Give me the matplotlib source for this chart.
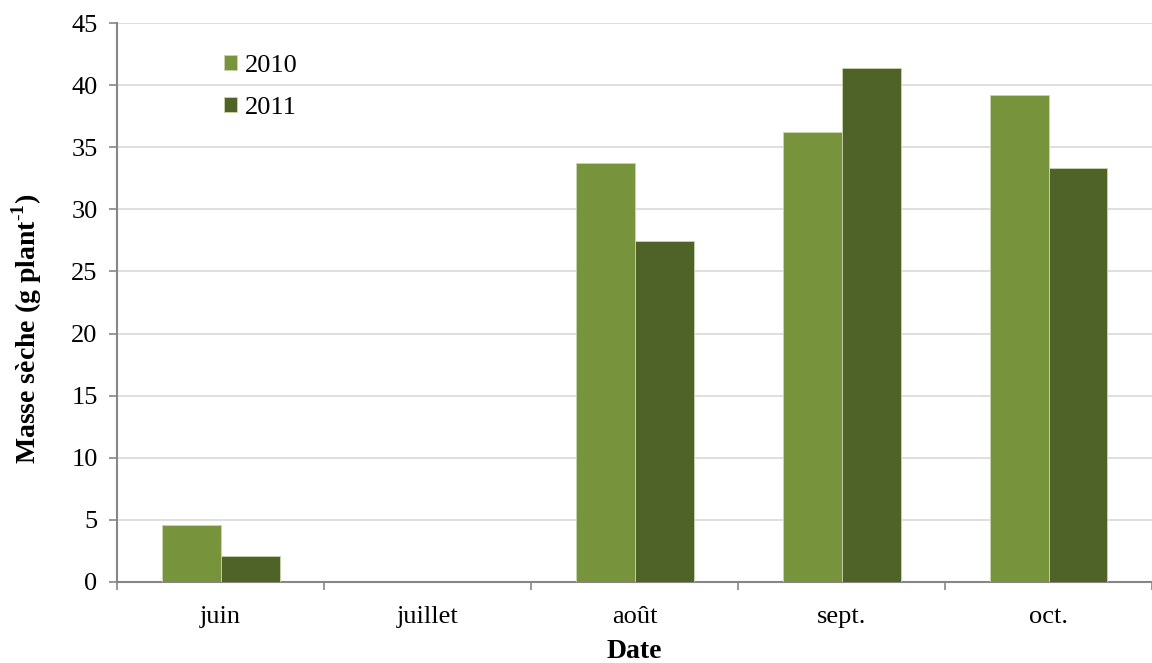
import numpy as np
import matplotlib.pyplot as plt

plt.rcParams['font.family'] = ['Liberation Serif', 'DejaVu Serif']
plt.rcParams['mathtext.fontset'] = 'custom'
plt.rcParams['mathtext.rm'] = 'Liberation Serif'
plt.rcParams['mathtext.bf'] = 'Liberation Serif:bold'

# Dry mass per plant by sampling month
months = ['juin', 'juillet', 'août', 'sept.', 'oct.']
mass_2010 = [4.6, 0, 33.7, 36.2, 39.2]
mass_2011 = [2.1, 0, 27.45, 41.35, 33.3]

fig = plt.figure(figsize=(11.52, 6.63), dpi=100)
ax = fig.add_axes([0.1016, 0.1222, 0.8984, 0.8431])

x = np.arange(len(months))
w = 0.285
ax.bar(x - w / 2, mass_2010, w, color='#77933C', edgecolor='#c9d6b0', linewidth=0.6, label='2010', zorder=3)
ax.bar(x + w / 2, mass_2011, w, color='#4F6228', edgecolor='#c9d6b0', linewidth=0.6, label='2011', zorder=3)

ax.set_xlim(-0.5, len(months) - 0.5)
ax.set_ylim(0, 45)
ax.set_yticks(np.arange(0, 46, 5))
ax.yaxis.grid(True, color='#d9d9d9', linewidth=1.2, zorder=0)

# category labels centred, ticks between categories
ax.set_xticks(x)
ax.set_xticklabels(months)
ax.set_xticks(np.arange(-0.5, len(months), 1), minor=True)
ax.tick_params(axis='x', which='major', length=0, pad=17, labelsize=19)
ax.tick_params(axis='x', which='minor', length=6, width=1.2, color='#868686', direction='out')
ax.tick_params(axis='y', length=6, width=1.2, color='#868686', labelsize=19, pad=8)

for side in ['top', 'right']:
    ax.spines[side].set_visible(False)
for side in ['left', 'bottom']:
    ax.spines[side].set_color('#868686')
    ax.spines[side].set_linewidth(1.5)

ax.set_xlabel('Date', fontsize=20, fontweight='bold', labelpad=8)
ax.set_ylabel(r'Masse sèche (g plant$^{\mathbf{\text{-}1}}$)', fontsize=20, fontweight='bold')
ax.yaxis.set_label_coords(-0.071, 0.453)

ax.legend(loc='upper left', bbox_to_anchor=(0.08, 0.985), frameon=False, fontsize=19,
          handlelength=0.5, handleheight=0.5, handletextpad=0.3, labelspacing=0.75)

fig.savefig('out.png', dpi=100)
